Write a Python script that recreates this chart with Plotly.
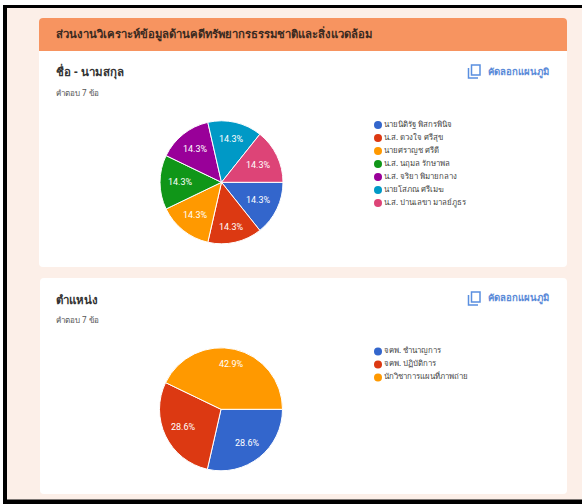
import math
import plotly.graph_objects as go

names = ["นายนิติรัฐ พิสกรพินิจ", "น.ส. ดวงใจ ศรีสุข", "นายศราญช ศรีดี", "น.ส. นฤมล รักษาพล",
         "น.ส. จริยา พิมายกลาง", "นายโสภณ ศรีเมฆ", "น.ส. ปานเลขา มาลย์ภูธร"]
name_values = [1, 1, 1, 1, 1, 1, 1]
name_colors = ["#3366cc", "#dc3912", "#ff9900", "#109618", "#990099", "#0099c6", "#dd4477"]
name_label_radii = [0.665, 0.75, 0.69, 0.67, 0.69, 0.73, 0.665]

positions = ["จคพ. ชำนาญการ", "จคพ. ปฏิบัติการ", "นักวิชาการแผนที่ภาพถ่าย"]
position_values = [2, 2, 3]
position_colors = ["#3366cc", "#dc3912", "#ff9900"]
position_label_radii = [0.7, 0.67, 0.75]

W, H = 582, 504
R = 61.5


def px_x(v):
    return v / W


def px_y(v):
    return 1 - v / H


def pie_domain(cx, cy, r):
    return dict(x=[px_x(cx - r), px_x(cx + r)], y=[px_y(cy + r), px_y(cy - r)])


def pie(labels, values, colors, domain):
    return go.Pie(labels=labels, values=values, sort=False, direction="clockwise", rotation=90,
                  marker=dict(colors=colors, line=dict(color="white", width=1)),
                  textinfo="none", domain=domain, showlegend=False)


def pie_labels(values, radii, cx, cy):
    total = sum(values)
    out = []
    run = 0
    for v, k in zip(values, radii):
        mid = (run + v / 2) / total * 2 * math.pi
        run += v
        out.append(dict(xref="paper", yref="paper", x=px_x(cx + k * R * math.cos(mid)),
                        y=px_y(cy + k * R * math.sin(mid)), xanchor="center", yanchor="middle",
                        text=f"{v / total:.1%}", showarrow=False,
                        font=dict(family="Roboto", size=9, color="white")))
    return out


def legend_trace(labels, colors, xaxis, yaxis):
    return go.Scatter(x=[0] * len(labels), y=list(range(len(labels))), mode="markers+text",
                      text=labels, textposition="middle right",
                      textfont=dict(family="Noto Sans", size=7.8, color="#444444"),
                      marker=dict(color=colors, size=8), cliponaxis=False, hoverinfo="skip",
                      showlegend=False, xaxis=xaxis, yaxis=yaxis)


fig = go.Figure()
fig.add_trace(pie(names, name_values, name_colors, pie_domain(221.5, 182.3, R)))
fig.add_trace(pie(positions, position_values, position_colors, pie_domain(221, 409.3, R)))
fig.add_trace(legend_trace(names, name_colors, "x", "y"))
fig.add_trace(legend_trace(positions, position_colors, "x2", "y2"))

row = 13
hidden = dict(visible=False, fixedrange=True)
fig.update_layout(
    width=W, height=H, margin=dict(l=0, r=0, t=0, b=0), paper_bgcolor="white", plot_bgcolor="rgba(0,0,0,0)",
    showlegend=False,
    xaxis=dict(domain=[px_x(378), px_x(578)], range=[0, 200], **hidden),
    yaxis=dict(domain=[px_y(125 + 6.5 * row), px_y(125 - 0.5 * row)], range=[6.5, -0.5], **hidden),
    xaxis2=dict(domain=[px_x(378), px_x(578)], range=[0, 200], **hidden),
    yaxis2=dict(domain=[px_y(351.5 + 2.5 * row), px_y(351.5 - 0.5 * row)], range=[2.5, -0.5], **hidden),
)


def rect(x0, y0, x1, y1, color):
    return dict(type="rect", xref="paper", yref="paper", x0=px_x(x0), x1=px_x(x1),
                y0=px_y(y1), y1=px_y(y0), fillcolor=color, line=dict(width=0), layer="below")


def rrect(x0, y0, x1, y1, r, color, corners="all"):
    a, b, c, d = (r, r, r, r) if corners == "all" else (r, r, 0, 0)
    X, Y = px_x, px_y
    path = (f"M {X(x0 + a)} {Y(y0)} L {X(x1 - b)} {Y(y0)} Q {X(x1)} {Y(y0)} {X(x1)} {Y(y0 + b)} "
            f"L {X(x1)} {Y(y1 - c)} Q {X(x1)} {Y(y1)} {X(x1 - c)} {Y(y1)} "
            f"L {X(x0 + d)} {Y(y1)} Q {X(x0)} {Y(y1)} {X(x0)} {Y(y1 - d)} "
            f"L {X(x0)} {Y(y0 + a)} Q {X(x0)} {Y(y0)} {X(x0 + a)} {Y(y0)} Z")
    return dict(type="path", xref="paper", yref="paper", path=path, fillcolor=color, line=dict(width=0), layer="below")


shapes = [
    rect(3, 5, 582, 504, "#000000"),
    rect(7, 8, 582, 499.5, "#fcefe8"),
    rrect(39, 18, 567, 267, 4, "#ffffff"),
    rrect(39, 18, 567, 51, 4, "#f79460", corners="top"),
    rrect(40, 278, 567, 494, 4, "#ffffff"),
]
# copy-chart icons
icon_blue = "#5a8fe0"
for top in (65, 292):
    shapes.append(dict(type="rect", xref="paper", yref="paper", x0=px_x(471.5), x1=px_x(480),
                       y0=px_y(top + 10), y1=px_y(top), fillcolor="white",
                       line=dict(color=icon_blue, width=1.5), layer="below"))
    shapes.append(dict(type="path", xref="paper", yref="paper",
                       path=f"M {px_x(468.5)} {px_y(top + 3)} L {px_x(468.5)} {px_y(top + 13)} L {px_x(478)} {px_y(top + 13)}",
                       line=dict(color=icon_blue, width=1.5), layer="below"))


def note(x, y, text, size, color, weight="normal"):
    return dict(xref="paper", yref="paper", x=px_x(x), y=px_y(y), xanchor="left", yanchor="middle",
                text=f"<b>{text}</b>" if weight == "bold" else text, showarrow=False,
                font=dict(family="Noto Sans", size=size, color=color))


annotations = [
    note(54, 34, "ส่วนงานวิเคราะห์ข้อมูลด้านคดีทรัพยากรธรรมชาติและสิ่งแวดล้อม", 11.3, "#3a2a20", "bold"),
    note(54, 72, "ชื่อ - นามสกุล", 11.5, "#333333", "bold"),
    note(54, 92, "คำตอบ 7 ข้อ", 8, "#555555"),
    note(54, 299, "ตำแหน่ง", 11.5, "#333333", "bold"),
    note(54, 319, "คำตอบ 7 ข้อ", 8, "#555555"),
    note(486, 72, "คัดลอกแผนภูมิ", 9.6, "#5a8ad8", "bold"),
    note(486, 298, "คัดลอกแผนภูมิ", 9.6, "#5a8ad8", "bold"),
]
annotations += pie_labels(name_values, name_label_radii, 221.5, 182.3)
annotations += pie_labels(position_values, position_label_radii, 221, 409.3)
fig.update_layout(shapes=shapes, annotations=annotations)
fig.write_html("out.html", config=dict(displayModeBar=False), post_script="document.body.style.margin='0';")
